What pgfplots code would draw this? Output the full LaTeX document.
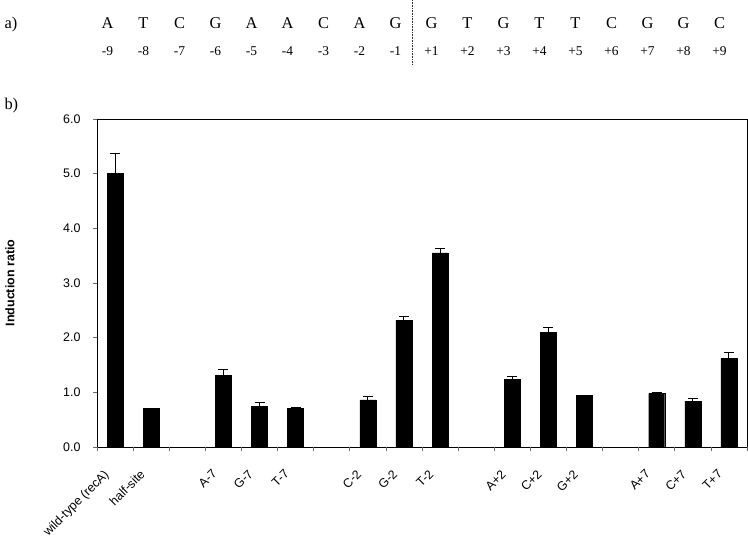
\documentclass[border=0pt]{standalone}
\usepackage{fontspec}
\setmainfont{Liberation Serif}
\setsansfont{Liberation Sans}
\usepackage{pgfplots}
\usepackage{pgfplotstable}
\pgfplotsset{compat=1.18}

\pgfplotstableread{
x  y     err
0  5.00  0.37
1  0.71  0.00
3  1.31  0.11
4  0.75  0.06
5  0.71  0.02
7  0.86  0.07
8  2.32  0.06
9  3.55  0.09
11 1.24  0.05
12 2.10  0.08
13 0.94  0.01
15 0.98  0.02
16 0.84  0.04
17 1.62  0.11
}\ratios

\begin{document}
\begin{tikzpicture}
\useasboundingbox (0,0) rectangle (748bp,545bp);
% panel a) sequence
\node[anchor=base west, font=\fontsize{16.5}{18}\selectfont] at (1bp,516bp) {a)};
\node[anchor=base west, font=\fontsize{16.5}{18}\selectfont] at (1bp,435bp) {b)};
\foreach \L [count=\i from 0] in {A,T,C,G,A,A,C,A,G,G,T,G,T,T,C,G,G,C} {
  \node[anchor=base, font=\fontsize{16.5}{18}\selectfont] at ({107.5bp+36bp*\i},516bp) {\L};
}
\foreach \N [count=\i from 0] in {-9,-8,-7,-6,-5,-4,-3,-2,-1,+1,+2,+3,+4,+5,+6,+7,+8,+9} {
  \node[anchor=base, font=\fontsize{13.5}{15}\selectfont] at ({107.5bp+36bp*\i},489.5bp) {\N};
}
\draw[densely dotted, line width=0.6bp, black!80] (412bp,545bp) -- (412bp,480bp);
% y label
\node[rotate=90, font=\sffamily\bfseries\fontsize{12.5}{14}\selectfont] at (10bp,262bp) {Induction ratio};

\begin{axis}[
  at={(97bp,98bp)}, anchor=south west,
  scale only axis, width=650bp, height=328bp,
  xmin=-0.5, xmax=17.5, ymin=0, ymax=6,
  axis line style={black, line width=0.8bp},
  font=\sffamily\fontsize{12.5}{14}\selectfont,
  tick label style={font=\sffamily\fontsize{12.5}{14}\selectfont},
  /pgf/number format/assume math mode=true,
  ytick={0,1,2,3,4,5,6},
  yticklabel style={/pgf/number format/fixed, /pgf/number format/fixed zerofill, /pgf/number format/precision=1, xshift=-9bp},
  ytick align=outside, ytick pos=left,
  ytick style={black!60, line width=0.6bp},
  major tick length=4bp,
  xtick={0,1,3,4,5,7,8,9,11,12,13,15,16,17},
  xticklabels={wild-type (recA),half-site,A-7,G-7,T-7,C-2,G-2,T-2,A+2,C+2,G+2,A+7,C+7,T+7},
  xtick style={draw=none},
  xticklabel style={xshift=-12bp, yshift=-17bp, rotate=45, anchor=north east},
  extra x ticks={-0.5,0.5,1.5,2.5,3.5,4.5,5.5,6.5,7.5,8.5,9.5,10.5,11.5,12.5,13.5,14.5,15.5,16.5,17.5},
  extra x tick labels={},
  extra x tick style={xtick style={draw=black!60, line width=0.6bp}, tick align=outside, xtick pos=bottom},
  clip=false,
]
\addplot[ybar, bar width=16bp, fill=black, draw=black,
  error bars/.cd, y dir=plus, y explicit,
  error bar style={line width=1bp, black},
  error mark options={rotate=90, mark size=5bp, line width=1bp, black}]
  table[x=x, y=y, y error=err] {\ratios};
\end{axis}
\end{tikzpicture}
\end{document}
